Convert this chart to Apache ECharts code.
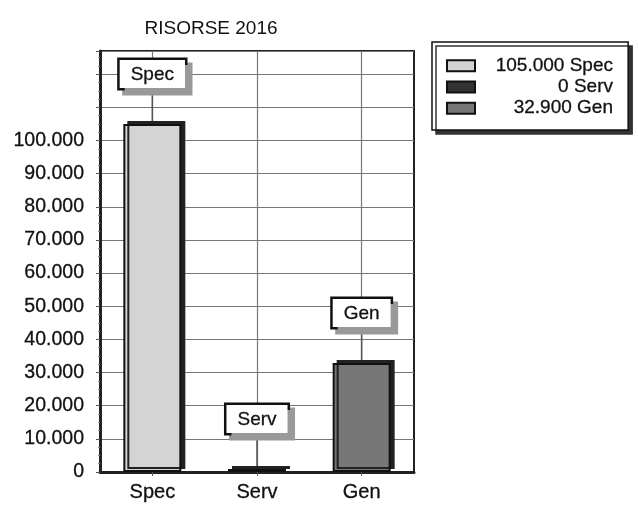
<!DOCTYPE html>
<html>
<head>
<meta charset="utf-8">
<script src="https://cdn.jsdelivr.net/npm/echarts@6/dist/echarts.min.js"></script>
<style>
  html, body { margin: 0; padding: 0; background: #fff; }
  #chart { width: 638px; height: 510px; }
</style>
</head>
<body>
<div id="chart"></div>
<script>
// dati risorse 2016
var categories = ['Spec', 'Serv', 'Gen'];
var values = [105000, 0, 32900];
var barColors = ['#d4d4d4', '#333333', '#777777'];

var FONT = 'Liberation Sans';

function fmt(v) {
  return String(v).replace(/\B(?=(\d{3})+(?!\d))/g, '.');
}

var myChart = echarts.init(document.getElementById('chart'));

var series = categories.map(function (name, i) {
  var data = categories.map(function (c, j) { return j === i ? values[i] : '-'; });
  return {
    name: name,
    type: 'bar',
    stack: 'tot',
    data: data,
    barWidth: 58,
    barMinHeight: 3,
    itemStyle: {
      color: barColors[i],
      borderColor: '#111',
      borderWidth: 2,
      shadowColor: '#222',
      shadowOffsetX: 4,
      shadowOffsetY: -3,
      shadowBlur: 0
    },
    label: {
      show: true,
      position: 'top',
      distance: 0,
      formatter: name,
      color: '#111',
      fontSize: 19,
      fontFamily: FONT,
      textBorderColor: '#111',
      textBorderWidth: 0.3,
      backgroundColor: '#fff',
      borderColor: '#111',
      borderWidth: 2.5,
      padding: [5, 11, 4, 11],
      shadowColor: '#999',
      shadowOffsetX: 5,
      shadowOffsetY: 5,
      shadowBlur: 0
    },
    labelLayout: { dy: -36 },
    labelLine: { show: true, lineStyle: { color: '#555', width: 1.5 } }
  };
});

var option = {
  animation: false,
  backgroundColor: '#fff',
  title: {
    text: 'RISORSE 2016',
    left: 206,
    textAlign: 'center',
    top: 14,
    textStyle: { fontSize: 19, fontWeight: 'normal', color: '#111', fontFamily: FONT }
  },
  legend: {
    orient: 'vertical',
    left: 432,
    top: 42,
    padding: [14, 15, 12, 14],
    itemGap: 2,
    itemWidth: 28,
    itemHeight: 11,
    icon: 'rect',
    backgroundColor: '#fff',
    borderColor: '#111',
    borderWidth: 1.5,
    shadowColor: '#333',
    shadowOffsetX: 4,
    shadowOffsetY: 4,
    shadowBlur: 0,
    data: categories,
    formatter: function (name) {
      var i = categories.indexOf(name);
      return '{a|' + fmt(values[i]) + ' ' + name + '}';
    },
    textStyle: {
      rich: {
        a: {
          width: 133, align: 'right', fontSize: 19, color: '#111', fontFamily: FONT,
          textBorderColor: '#111', textBorderWidth: 0.3
        }
      }
    }
  },
  grid: {
    left: 100,
    right: 224,
    top: 51,
    bottom: 38,
    show: true,
    borderColor: '#222',
    borderWidth: 2
  },
  xAxis: {
    type: 'category',
    data: categories,
    axisLine: { lineStyle: { color: '#222', width: 3 } },
    axisTick: { show: true, alignWithLabel: true, length: 4, lineStyle: { color: '#555' } },
    axisLabel: {
      margin: 10, fontSize: 20, color: '#111', fontFamily: FONT,
      textBorderColor: '#111', textBorderWidth: 0.3
    },
    splitLine: { show: true, alignWithLabel: true, lineStyle: { color: '#777', width: 1.2 } }
  },
  yAxis: {
    type: 'value',
    min: 0,
    max: 127000,
    interval: 10000,
    axisLine: { show: true, lineStyle: { color: '#222', width: 3 } },
    axisTick: { show: true, length: 4, lineStyle: { color: '#555' } },
    minorTick: { show: true, splitNumber: 4, length: 2, lineStyle: { color: '#888' } },
    axisLabel: {
      margin: 16,
      fontSize: 19.5,
      color: '#111',
      fontFamily: FONT,
      textBorderColor: '#111',
      textBorderWidth: 0.3,
      showMaxLabel: false,
      formatter: function (v) { return v > 100000 ? '' : fmt(v); }
    },
    splitLine: { show: true, lineStyle: { color: '#777', width: 1.2 } }
  },
  series: series
};

myChart.setOption(option);
</script>
</body>
</html>
